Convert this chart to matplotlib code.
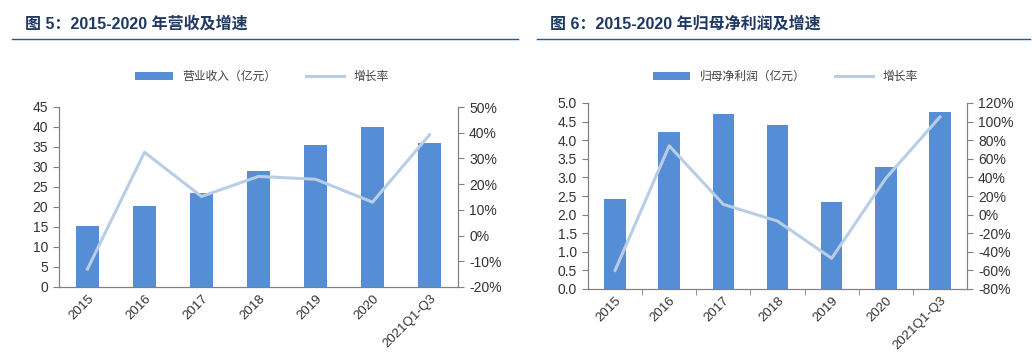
import matplotlib.pyplot as plt
import numpy as np

plt.rcParams['font.family'] = ['Liberation Sans', 'Noto Sans CJK SC']

categories = ["2015", "2016", "2017", "2018", "2019", "2020", "2021Q1-Q3"]

# 图5 营收
revenue = [15.3, 20.3, 23.6, 29.1, 35.5, 40.1, 36.0]
revenue_growth = [-13.0, 32.4, 15.2, 23.0, 21.9, 13.0, 39.2]

# 图6 归母净利润
profit = [2.42, 4.22, 4.71, 4.40, 2.34, 3.29, 4.75]
profit_growth = [-60.0, 74.0, 11.0, -7.0, -47.0, 39.0, 105.0]

bar_color = "#558ED5"
line_color = "#B9CDE5"
title_color = "#1F3864"
text_color = "#333333"

W, H = 1035, 355
fig = plt.figure(figsize=(W / 100, H / 100), dpi=100)


def px_axes(x0, y0, x1, y1):
    return fig.add_axes([x0 / W, 1 - y1 / H, (x1 - x0) / W, (y1 - y0) / H])


def panel(x0, y0, x1, y1, bars, growth, bar_label, ylim, yticks, yfmt,
          glim, gticks, xticks_marks, title, tx, line_x0, line_x1, legend_x):
    ax = px_axes(x0, y0, x1, y1)
    x = np.arange(len(categories))
    ax.bar(x, bars, width=0.4, color=bar_color, label=bar_label, zorder=2)
    ax.set_xlim(-0.5, len(categories) - 0.5)
    ax.set_ylim(*ylim)
    ax.set_yticks(yticks)
    ax.set_yticklabels([yfmt.format(v) for v in yticks], fontsize=10, color=text_color)
    ax.set_xticks(x)
    ax.set_xticklabels(categories, rotation=45, ha="right", rotation_mode="anchor",
                       fontsize=9.5, color=text_color)
    ax.tick_params(axis="x", length=0, pad=4)
    if xticks_marks:
        ax.set_xticks(np.arange(0.5, len(categories) - 1, 1.0), minor=True)
        ax.tick_params(axis="x", which="minor", length=4, color="#808080")
    ax.tick_params(axis="y", length=4, color="#808080", pad=4)
    ax.spines["top"].set_visible(False)
    for s in ["left", "bottom", "right"]:
        ax.spines[s].set_color("#808080")

    ax2 = ax.twinx()
    ax2.plot(x, growth, color=line_color, lw=2.2, label="增长率", zorder=3)
    ax2.set_ylim(*glim)
    ax2.set_yticks(gticks)
    ax2.set_yticklabels(["{:.0f}%".format(v) for v in gticks], fontsize=10, color=text_color)
    ax2.tick_params(axis="y", length=4, color="#808080", pad=4)
    ax2.spines["top"].set_visible(False)
    for s in ["left", "bottom", "right"]:
        ax2.spines[s].set_color("#808080")

    h1, l1 = ax.get_legend_handles_labels()
    h2, l2 = ax2.get_legend_handles_labels()
    fig.legend(h1 + h2, l1 + l2, loc="center", bbox_to_anchor=(legend_x / W, 1 - 77 / H),
               ncol=2, frameon=False, fontsize=8.5, handlelength=3.2, columnspacing=2.5,
               labelcolor="#404040")

    fig.text(tx / W, 1 - 24 / H, title, fontsize=11.5, fontweight="bold",
             color=title_color, va="center", ha="left")
    fig.add_artist(plt.Line2D([line_x0 / W, line_x1 / W], [1 - 39 / H, 1 - 39 / H],
                              color="#2F5597", lw=1.0))


panel(59, 107, 458, 287, revenue, revenue_growth, "营业收入（亿元）",
      (0, 45), list(range(0, 46, 5)), "{:.0f}",
      (-20, 50), list(range(-20, 51, 10)), False,
      "图 5：2015-2020 年营收及增速", 25, 12, 518, 262)

panel(588, 103, 967, 289, profit, profit_growth, "归母净利润（亿元）",
      (0, 5.0), [i * 0.5 for i in range(11)], "{:.1f}",
      (-80, 120), list(range(-80, 121, 20)), True,
      "图 6：2015-2020 年归母净利润及增速", 550, 537, 1030, 785)

fig.savefig("out.png", dpi=100)
